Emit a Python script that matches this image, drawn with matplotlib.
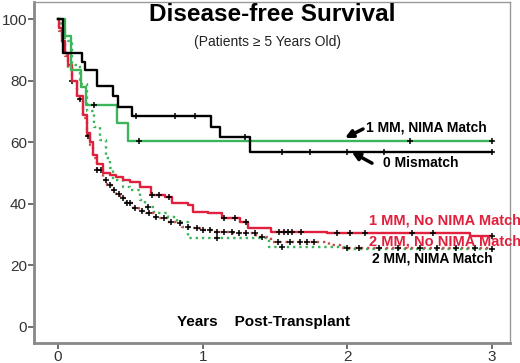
import matplotlib
matplotlib.use("Agg")
import matplotlib.pyplot as plt
import numpy as np

plt.rcParams['font.family'] = ['Liberation Sans', 'DejaVu Sans']

# 0 Mismatch (black solid)
t_zero = [0, 0.035, 0.164, 0.187, 0.267, 0.382, 0.417, 0.509, 1.057, 1.12, 1.327, 3.0]
s_zero = [100, 89.1, 86.1, 83.4, 78.2, 75.0, 71.5, 68.5, 64.9, 61.7, 56.8, 56.8]
c_zero = [0.54, 0.81, 0.95, 1.29, 1.55, 1.74, 2.0, 2.25, 3.0]

# 1 MM, NIMA Match (green solid)
t_1nm = [0, 0.048, 0.09, 0.16, 0.195, 0.41, 0.485, 3.0]
s_1nm = [100, 94.5, 83.4, 77.8, 72.1, 66.3, 60.3, 60.3]
c_1nm = [0.25, 0.56, 2.43, 3.0]

# 1 MM, No NIMA Match (red solid)
t_1no = [0, 0.01, 0.03, 0.05, 0.07, 0.1, 0.13, 0.17, 0.2, 0.22, 0.24, 0.27, 0.31,
         0.36, 0.4, 0.45, 0.5, 0.57, 0.64, 0.74, 0.79, 0.9, 0.93, 1.04, 1.13, 1.26,
         1.31, 1.47, 1.86, 2.85, 3.0]
s_1no = [100, 97, 93, 89, 85, 80, 75, 69, 63, 60, 56, 53, 50,
         49.3, 48.7, 47.8, 47, 45.5, 42.9, 42.2, 40.3, 39.6, 37.3, 37, 35.4, 34,
         32, 30.9, 30.4, 29.5, 29.5]
c_1no = [0.65, 0.70, 0.77, 1.15, 1.22, 1.30, 1.53, 1.56, 1.59, 1.62, 1.68,
         1.93, 2.02, 2.12, 2.45, 2.59, 3.0]

# 2 MM, No NIMA Match (red dotted)
t_2no = [0, 0.01, 0.03, 0.05, 0.07, 0.1, 0.13, 0.17, 0.2, 0.22, 0.24, 0.27, 0.31,
         0.34, 0.37, 0.4, 0.43, 0.47, 0.52, 0.56, 0.61, 0.66, 0.7, 0.75, 0.82, 0.86,
         0.93, 0.98, 1.07, 1.21, 1.37, 1.47, 1.87, 1.95, 3.0]
s_2no = [100, 96, 92, 88, 84, 80, 74, 68, 62, 59, 55, 51, 47.7,
         46, 44.5, 43.2, 41.9, 40.2, 38.6, 37.8, 37, 35.8, 35.4, 34, 33.8, 32.5,
         32, 31.5, 30.9, 30.4, 29.2, 27.7, 26.6, 25.6, 25.3]
c_2no = [0.1, 0.15, 0.21, 0.27, 0.3, 0.33, 0.36, 0.39, 0.42, 0.45, 0.48, 0.5, 0.53,
         0.58, 0.63, 0.68, 0.73, 0.78, 0.84, 0.9, 0.96, 1.0, 1.05, 1.1, 1.15, 1.2,
         1.25, 1.3, 1.36, 1.41, 1.52, 1.6, 1.67, 1.72, 1.77, 2.0, 2.08, 2.22, 2.35,
         2.5, 2.62, 2.75, 2.88, 3.0]

# 2 MM, NIMA Match (green dotted)
t_2nm = [0, 0.02, 0.05, 0.1, 0.15, 0.2, 0.25, 0.29, 0.33, 0.36, 0.38, 0.45, 0.5,
         0.57, 0.6, 0.66, 0.76, 0.82, 0.9, 1.46, 2.0, 3.0]
s_2nm = [100, 97, 93, 85, 79, 70, 65, 60.7, 55, 51.5, 47.7, 45.5, 44.5,
         41.2, 39, 37, 35.7, 34, 28.9, 26.1, 25.3, 25.3]
c_2nm = [0.62, 1.1, 1.55]

green = '#3cb45a'
red = '#e0203c'
red_dot = '#c0504a'


def censor_vals(t, s, c):
    idx = np.searchsorted(t, c, side='right') - 1
    return np.array(s)[idx]


fig = plt.figure(figsize=(5.2, 3.63), dpi=100)
ax = fig.add_axes([0.0654, 0.0551, 0.9154, 0.939])

curves = [
    (t_2nm, s_2nm, c_2nm, green, ':'),
    (t_2no, s_2no, c_2no, red_dot, ':'),
    (t_1no, s_1no, c_1no, red, '-'),
    (t_1nm, s_1nm, c_1nm, green, '-'),
    (t_zero, s_zero, c_zero, 'black', '-'),
]
for t, s, c, col, ls in curves:
    ax.plot(t, s, drawstyle='steps-post', color=col, ls=ls, lw=1.7)
    ax.plot(c, censor_vals(t, s, c), ls='none', marker='+', ms=4,
            mew=1.1, color='black')

ax.set_xlim(-0.166, 3.124)
ax.set_ylim(-5.2, 105.5)
ax.set_xticks([0, 1, 2, 3])
ax.set_yticks([0, 20, 40, 60, 80, 100])
ax.tick_params(axis='both', direction='out', length=4, width=1.2,
               colors='#555555', labelcolor='#333333', labelsize=11, pad=1)
for side in ['left', 'bottom']:
    ax.spines[side].set_color('#888888')
    ax.spines[side].set_linewidth(2)
for side in ['top', 'right']:
    ax.spines[side].set_color('#999999')
    ax.spines[side].set_linewidth(1)

fig.text(0.523, 0.959, 'Disease-free Survival', ha='center', va='center',
         fontsize=17.5, fontweight='bold')
fig.text(0.515, 0.884, '(Patients \u2265 5 Years Old)', ha='center', va='center',
         fontsize=10, color='#222222')

lab = dict(fontsize=10, fontweight='bold', va='center', clip_on=False)
ax.text(2.13, 64.9, '1 MM, NIMA Match', color='black', **lab)
ax.text(2.246, 53.2, '0 Mismatch', color='black', **lab)
ax.text(2.15, 34.7, '1 MM, No NIMA Match', color=red, fontsize=10.5,
        fontweight='bold', va='center', clip_on=False)
ax.text(2.15, 27.9, '2 MM, No NIMA Match', color=red, fontsize=10.5,
        fontweight='bold', va='center', clip_on=False)
ax.text(2.17, 22.1, '2 MM, NIMA Match', color='black', **lab)
ax.text(1.42, 1.6, 'Years    Post-Transplant', ha='center', va='center',
        fontsize=11, fontweight='bold')

arrow = dict(arrowstyle='-|>', color='black', lw=2.5, mutation_scale=11,
             shrinkA=0, shrinkB=0)
ax.annotate('', xy=(1.983, 61.4), xytext=(2.108, 64.3), arrowprops=arrow)
ax.annotate('', xy=(2.03, 56.8), xytext=(2.17, 53.2), arrowprops=arrow)

fig.savefig('out.png', dpi=100)
